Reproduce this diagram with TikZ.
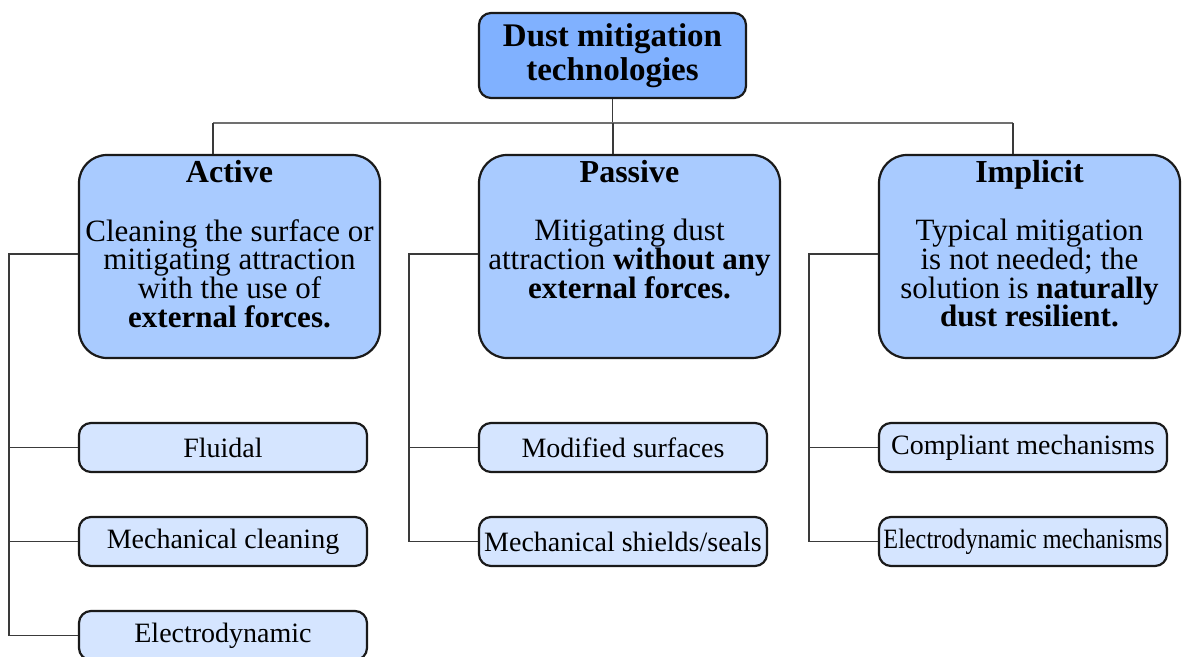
\documentclass[tikz,border=0pt]{standalone}
\usepackage{fontspec}
\usepackage{graphicx}
\setmainfont{Liberation Serif}
\definecolor{rootfill}{HTML}{80B1FF}
\definecolor{catfill}{HTML}{A9CBFF}
\definecolor{leaffill}{HTML}{D5E5FF}
\definecolor{edge}{HTML}{1A1A1A}
\definecolor{wire}{HTML}{3A3A3A}
\definecolor{bar}{HTML}{707070}
% body text of the category boxes: even line spacing regardless of glyph heights
\newcommand\catbodyfont{\fontsize{15.5}{14.3}\selectfont\lineskiplimit-20pt\lineskip0pt}
\tikzset{
  rootbox/.style={draw=edge, line width=1.1pt, fill=rootfill, rounded corners=6pt,
    minimum width=133.5pt, minimum height=42.5pt, inner sep=0pt, align=center,
    font=\bfseries\fontsize{16.5}{17}\selectfont},
  catbox/.style={draw=edge, line width=1.1pt, fill=catfill, rounded corners=14pt,
    minimum width=150.5pt, minimum height=101.5pt, inner sep=0pt},
  cattitle/.style={anchor=base, inner sep=0pt, font=\bfseries\fontsize{16}{17}\selectfont},
  catbody/.style={anchor=north, inner sep=0pt, align=center, font=\catbodyfont},
  leafbox/.style={draw=edge, line width=1.1pt, fill=leaffill, rounded corners=6pt,
    minimum width=144pt, minimum height=24.5pt, inner sep=0pt,
    font=\fontsize{14}{16}\selectfont},
  wireline/.style={draw=wire, line width=0.6pt},
  barline/.style={draw=bar, line width=0.6pt},
  tap/.style={xshift=-8.25pt},
}
\begin{document}
\begin{tikzpicture}[x=0.5pt, y=-0.5pt]
\useasboundingbox (0,0) rectangle (1186,657);

% root
\node[rootbox] (root) at (612.5,55.5) {Dust mitigation\\technologies};

% categories
\node[catbox] (act) at (229.5,256.5) {};
\node[catbox] (pas) at (629.5,256.5) {};
\node[catbox] (imp) at (1029.5,256.5) {};

\node[cattitle] (actT) at (229.5,183) {Active};
\node[cattitle] (pasT) at (629.5,183) {Passive};
\node[cattitle] (impT) at (1029.5,183) {Implicit};

\node[catbody] (actB) at (229.5,219) {Cleaning the surface or\\mitigating attraction\\with the use of\\\textbf{external forces.}};
\node[catbody] (pasB) at (629.5,219) {Mitigating dust\\attraction \textbf{without any}\\\textbf{external forces.}};
\node[catbody] (impB) at (1029.5,219) {Typical mitigation\\is not needed; the\\solution is \textbf{naturally}\\\textbf{dust resilient.}};

% leaves
\node[leafbox] (a1) at (223,447.5) {Fluidal};
\node[leafbox] (a2) at (223,541.5) {Mechanical cleaning};
\node[leafbox] (a3) at (223,635.5) {Electrodynamic};
\node[leafbox] (p1) at (623,447.5) {Modified surfaces};
\node[leafbox] (p2) at (623,541.5) {Mechanical shields/seals};
\node[leafbox] (i1) at (1023,447.5) {Compliant mechanisms};
\node[leafbox] (i2) at (1023,541.5) {\scalebox{0.865}[1]{Electrodynamic mechanisms}};

% tree wiring
\coordinate (bus) at (613,123);
\coordinate (spA) at (9,254);
\coordinate (spP) at (409,254);
\coordinate (spI) at (809,254);

\path[wireline] (root.south) -- (root.south |- bus);
\path[barline] ([tap]act.north |- bus) -- ([tap]imp.north |- bus);
\path[wireline] ([tap]act.north |- bus) -- ([tap]act.north);
\path[wireline] ([tap]pas.north |- bus) -- ([tap]pas.north);
\path[wireline] ([tap]imp.north |- bus) -- ([tap]imp.north);

\path[wireline] (act.west |- spA) -- (spA) |- (a3.west);
\path[wireline] (spA |- a1.west) -- (a1.west);
\path[wireline] (spA |- a2.west) -- (a2.west);

\path[wireline] (pas.west |- spP) -- (spP) |- (p2.west);
\path[wireline] (spP |- p1.west) -- (p1.west);

\path[wireline] (imp.west |- spI) -- (spI) |- (i2.west);
\path[wireline] (spI |- i1.west) -- (i1.west);
\end{tikzpicture}
\end{document}
